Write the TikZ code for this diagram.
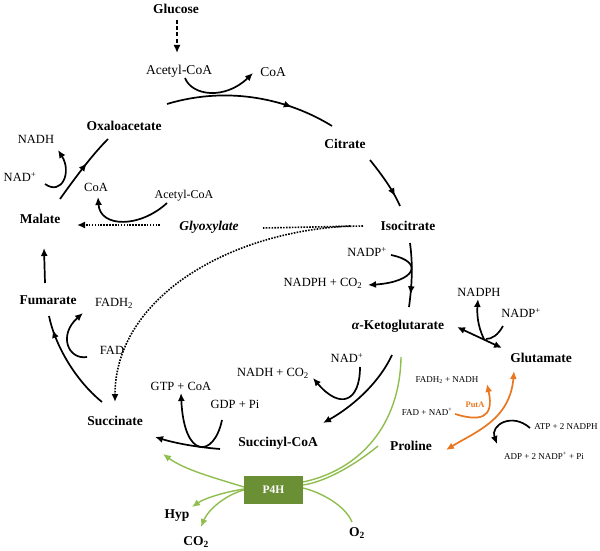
\documentclass[tikz,border=0pt]{standalone}
\usepackage{fontspec}
\setmainfont{Liberation Serif}
\usetikzlibrary{arrows.meta,decorations.markings}
\definecolor{pgreen}{HTML}{8FBE4E}
\definecolor{boxgreen}{HTML}{6B8F35}
\definecolor{porange}{HTML}{E8771F}
\tikzset{
  lb/.style={inner sep=0pt, font=\bfseries\fontsize{13.5}{15}\selectfont},
  tx/.style={inner sep=0pt, font=\fontsize{12.5}{14}\selectfont},
  txl/.style={inner sep=0pt, font=\fontsize{13.5}{15}\selectfont},
  sm/.style={inner sep=0pt, font=\fontsize{9}{10}\selectfont},
  blk/.style={line width=1.7pt, black},
  grn/.style={line width=1.4pt, pgreen},
  org/.style={line width=1.7pt, porange},
  tip/.style={-{Latex[length=8pt,width=7pt]}},
  gtip/.style={-{Latex[length=8pt,width=7pt]}},
  midtip/.style={postaction={decorate}, decoration={markings, mark=at position #1 with {\arrow{Latex[length=8pt,width=7pt]}}}},
  dots/.style={line width=1.6pt, dash pattern=on 1.6pt off 1.3pt},
}
\begin{document}
\begin{tikzpicture}[x=1pt,y=-1pt]
\useasboundingbox (0,0) rectangle (600,551);

% ---------- connector end points ----------
\coordinate (g1) at (177,20);   \coordinate (g2) at (177,53);
\coordinate (a1s) at (185,78);  \coordinate (a1e) at (253,73);
\coordinate (oc1) at (167,104); \coordinate (oc2) at (332,126);
\coordinate (ci1) at (370,160); \coordinate (ci2) at (400,206);
\coordinate (ik1) at (410,243); \coordinate (ik2) at (409,307);
\coordinate (np1) at (391,255); \coordinate (np2) at (368,285);
\coordinate (kg1) at (457,327); \coordinate (kg2) at (502,348);
\coordinate (nh1) at (484,339); \coordinate (nh2) at (478,299);
\coordinate (nq1) at (503,326); \coordinate (nq2) at (486,339);
\coordinate (pr1) at (446,450); \coordinate (pr2) at (514,371);
\coordinate (fn1) at (455,414); \coordinate (fn2) at (487,384);
\coordinate (at1) at (530,428); \coordinate (at2) at (497,444);
\coordinate (mo1) at (60,199);  \coordinate (mo2) at (108,139);
\coordinate (nd1) at (45,184);  \coordinate (nd2) at (58,150);
\coordinate (ac1) at (167,203); \coordinate (ac2) at (98,197);
\coordinate (gm1) at (160,225); \coordinate (gm2) at (77,225);
\coordinate (ig1) at (363,226); \coordinate (ig2) at (263,228);
\coordinate (is1) at (350,226); \coordinate (is2) at (115,402);
\coordinate (fm1) at (45,283);  \coordinate (fm2) at (44,248);
\coordinate (sf1) at (102,402); \coordinate (sf2) at (49,316);
\coordinate (fd1) at (87,357);  \coordinate (fd2) at (83,313);
\coordinate (ss1) at (220,449); \coordinate (ss2) at (155,437);
\coordinate (gd1) at (222,420); \coordinate (gd2) at (181,393);
\coordinate (ks1) at (392,355); \coordinate (ks2) at (323,423);
\coordinate (na1) at (360,367); \coordinate (na2) at (313,378);
\coordinate (pk) at (401,357);  \coordinate (pp) at (378,446);
\coordinate (po) at (352,522);  \coordinate (ps) at (163,454);
\coordinate (ph) at (192,507);  \coordinate (pc) at (201,527);

% ---------- labels ----------
\node[lb] (glucose) at (176,9) {Glucose};
\node[txl] (acoa1) at (179,71) {Acetyl-CoA};
\node[txl] (coa1) at (273,72) {CoA};
\node[lb] (oaa) at (124,126) {Oxaloacetate};
\node[lb] (citrate) at (345,144) {Citrate};
\node[lb] (isocit) at (408,226) {Isocitrate};
\node[tx] (nadp1) at (367,252) {NADP\textsuperscript{+}};
\node[tx] (nadphco2) at (323,283) {NADPH + CO\textsubscript{2}};
\node[lb] (akg) at (398,326) {{\itshape α}-Ketoglutarate};
\node[tx] (nadph2) at (479,292) {NADPH};
\node[tx] (nadp2) at (521,313) {NADP\textsuperscript{+}};
\node[lb] (glutamate) at (541,358) {Glutamate};
\node[sm] (fadh2nadh) at (447,380) {FADH\textsubscript{2} + NADH};
\node[sm] (fadnad) at (427,412) {FAD + NAD\textsuperscript{+}};
\node[sm, text=porange, font=\bfseries\fontsize{8.5}{10}\selectfont] (puta) at (475,405) {PutA};
\node[sm] (atp) at (566,427) {ATP + 2 NADPH};
\node[sm] (adp) at (544,456) {ADP + 2 NADP\textsuperscript{+} + Pi};
\node[lb] (proline) at (411,446) {Proline};
\node[tx] (nadh1) at (36,139) {NADH};
\node[tx] (nad1) at (20,177) {NAD\textsuperscript{+}};
\node[tx] (coa2) at (96,187) {CoA};
\node[tx, font=\fontsize{12}{14}\selectfont] (acoa2) at (184,196) {Acetyl-CoA};
\node[lb] (malate) at (40,219) {Malate};
\node[lb, font=\bfseries\itshape\fontsize{13.5}{15}\selectfont] (glyox) at (209,227) {Glyoxylate};
\node[lb] (fumarate) at (48,300) {Fumarate};
\node[tx] (fadh2) at (114,303) {FADH\textsubscript{2}};
\node[tx] (fad) at (112,350) {FAD};
\node[lb] (succinate) at (115,421) {Succinate};
\node[tx] (gtp) at (181,386) {GTP + CoA};
\node[tx] (gdp) at (235,404) {GDP + Pi};
\node[lb] (succoa) at (278,443) {Succinyl-CoA};
\node[tx] (nad2) at (347,358) {NAD\textsuperscript{+}};
\node[tx] (nadhco2) at (273,373) {NADH + CO\textsubscript{2}};
\node[lb] (hyp) at (177,516) {Hyp};
\node[lb] (co2) at (196,542) {CO\textsubscript{2}};
\node[lb] (o2) at (357,533) {O\textsubscript{2}};
\coordinate (pe1) at (303,482); \coordinate (pe2) at (303,485); \coordinate (pe3) at (303,488);
\coordinate (pw1) at (244,487); \coordinate (pw2) at (244,489); \coordinate (pw3) at (244,490);

% ---------- black connectors ----------
\draw[blk, tip, dash pattern=on 4pt off 2.2pt] (g1) -- (g2);
\draw[blk, tip] (a1s) .. controls (192,96) and (225,100) .. (a1e);
\draw[blk, midtip=0.74] (oc1) .. controls (230,85) and (290,100) .. (oc2);
\draw[blk, midtip=0.8] (ci1) .. controls (382,175) and (393,190) .. (ci2);
\draw[blk, midtip=0.8] (ik1) .. controls (413,265) and (412,285) .. (ik2);
\draw[blk, tip] (np1) .. controls (425,262) and (415,282) .. (np2);
\draw[blk, {Latex[length=8pt,width=7pt]}-{Latex[length=8pt,width=7pt]}] (kg1) -- (kg2);
\draw[blk, tip] (nh1) .. controls (477,325) and (477,312) .. (nh2);
\draw[blk] (nq1) .. controls (498,335) and (492,339) .. (nq2);
\draw[blk, tip] (at1) .. controls (512,412) and (490,425) .. (at2);

\draw[blk, midtip=0.58] (mo1) .. controls (75,178) and (92,155) .. (mo2);
\draw[blk, tip] (nd1) .. controls (62,196) and (72,172) .. (nd2);
\draw[blk, tip] (ac1) .. controls (140,228) and (100,228) .. (ac2);
\draw[dots, tip] (gm1) -- (gm2);
\draw[dots] (ig1) -- (ig2);
\draw[dots, tip] (is1) .. controls (225,232) and (115,300) .. (is2);
\draw[blk, tip] (fm1) -- (fm2);
\draw[blk, midtip=0.86] (sf1) .. controls (75,380) and (55,345) .. (sf2);
\draw[blk, tip] (fd1) .. controls (68,360) and (58,335) .. (fd2);
\draw[blk, tip] (ss1) .. controls (195,447) and (175,443) .. (ss2);
\draw[blk, tip] (gd1) .. controls (214,458) and (184,460) .. (gd2);
\draw[blk, tip] (ks1) .. controls (378,385) and (350,408) .. (ks2);
\draw[blk, tip] (na1) .. controls (360,402) and (340,410) .. (na2);

% ---------- orange (PutA) ----------
\draw[org, {Latex[length=8pt,width=7pt]}-{Latex[length=8pt,width=7pt]}] (pr1) .. controls (475,432) and (510,420) .. (pr2);
\draw[org, tip] (fn1) .. controls (478,421) and (495,420) .. (fn2);

% ---------- green (P4H) ----------
\draw[grn] (pe1) .. controls (360,470) and (400,425) .. (pk);
\draw[grn] (pe2) .. controls (325,482) and (355,465) .. (pp);
\draw[grn] (pe3) .. controls (320,492) and (345,505) .. (po);
\draw[grn, gtip] (pw1) .. controls (215,478) and (185,470) .. (ps);
\draw[grn, gtip] (pw2) .. controls (225,492) and (205,498) .. (ph);
\draw[grn, gtip] (pw3) .. controls (225,495) and (208,510) .. (pc);
\node[fill=boxgreen, minimum width=59pt, minimum height=28pt, inner sep=0pt,
      text=white, font=\bfseries\fontsize{11.5}{13}\selectfont] (p4h) at (273.5,489.5) {P4H};
\end{tikzpicture}
\end{document}
